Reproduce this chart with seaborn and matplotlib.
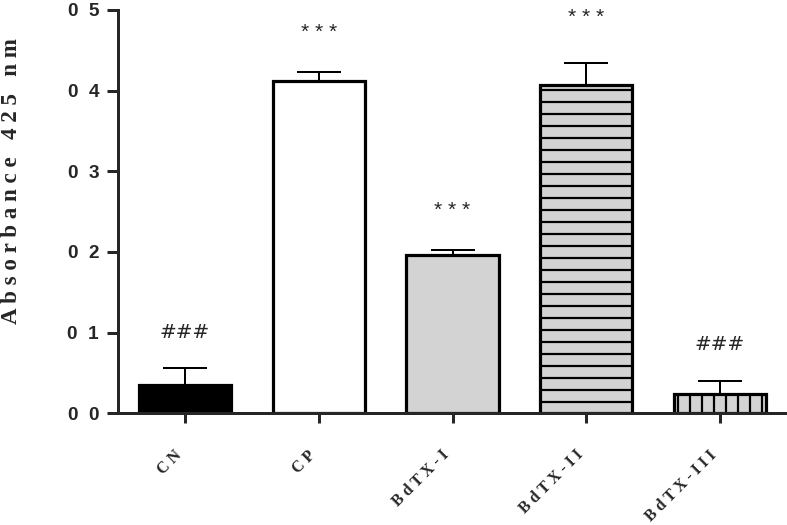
import matplotlib
matplotlib.use("Agg")
import matplotlib.pyplot as plt
import seaborn as sns
import pandas as pd

# values
groups = ["CN", "CP", "BdTX-I", "BdTX-II", "BdTX-III"]
absorbance = [0.035, 0.412, 0.196, 0.407, 0.024]
sem = [0.021, 0.011, 0.006, 0.027, 0.016]
marks = ["###", "***", "***", "***", "###"]
ytick_vals = [0.0, 0.1, 0.2, 0.3, 0.4, 0.5]
ytick_labels = ["0  0", "0  1", "0  2", "0  3", "0  4", "0  5"]
ylabel = "Absorbance 425 nm"

fill_colors = ["black", "white", "#d3d3d3", "#d3d3d3", "#d3d3d3"]
hatches = ["", "", "", "-", "|"]
mark_offsets = [36, 40, 40, 46, 36]

sns.set_style("ticks")
plt.rcParams["hatch.linewidth"] = 2.2

df = pd.DataFrame({"group": groups, "absorbance": absorbance})

# dpi 72 so that hatch spacing (6 lines per inch) is ~12 px like the reference
fig = plt.figure(figsize=(787 / 72, 525 / 72), dpi=72)
ax = fig.add_axes([0.150, 0.213, 0.850, 0.768])

sns.barplot(data=df, x="group", y="absorbance", ax=ax, width=0.69,
            color="white", errorbar=None, zorder=2)

for patch, fc, h in zip(ax.patches, fill_colors, hatches):
    patch.set_facecolor(fc)
    patch.set_edgecolor("black")
    patch.set_linewidth(3.2)
    patch.set_hatch(h)

# one sided error bars
ax.errorbar(range(len(groups)), absorbance, yerr=[[0] * len(sem), sem],
            fmt="none", ecolor="black", elinewidth=2, capsize=22, capthick=2,
            zorder=1)

for i, (v, e, m) in enumerate(zip(absorbance, sem, marks)):
    if m == "***":
        ax.annotate(" ".join(m), (i, v + e), xytext=(0, mark_offsets[i]),
                    textcoords="offset points", ha="center", va="center",
                    fontsize=21, family="Liberation Sans")
    else:
        ax.annotate(m, (i, v + e), xytext=(0, mark_offsets[i]),
                    textcoords="offset points", ha="center", va="center",
                    fontsize=20, family="DejaVu Sans")

ax.set_xlim(-0.5, 4.5)
ax.set_ylim(0, 0.5)
ax.set_yticks(ytick_vals)
ax.set_yticklabels(ytick_labels, fontsize=19, fontweight="bold",
                   family="Liberation Sans")
ax.set_xticks(range(len(groups)))
ax.set_xticklabels([" ".join(g) for g in groups], rotation=45, ha="right",
                   rotation_mode="default", fontsize=16, fontweight="bold",
                   family="Liberation Serif")
ax.tick_params(axis="x", length=10, width=3, pad=24)
ax.tick_params(axis="y", length=11, width=3, pad=8)

# letter spaced axis title like the original
spaced = "   ".join(" ".join(w) for w in ylabel.split())
ax.set_xlabel("")
ax.set_ylabel(spaced, fontsize=23, fontweight="bold", family="Liberation Serif")
ax.yaxis.set_label_coords(-0.143, 0.575)

for s in ["left", "bottom"]:
    ax.spines[s].set_linewidth(3)
sns.despine(ax=ax)

fig.savefig("out.png", dpi=72)
